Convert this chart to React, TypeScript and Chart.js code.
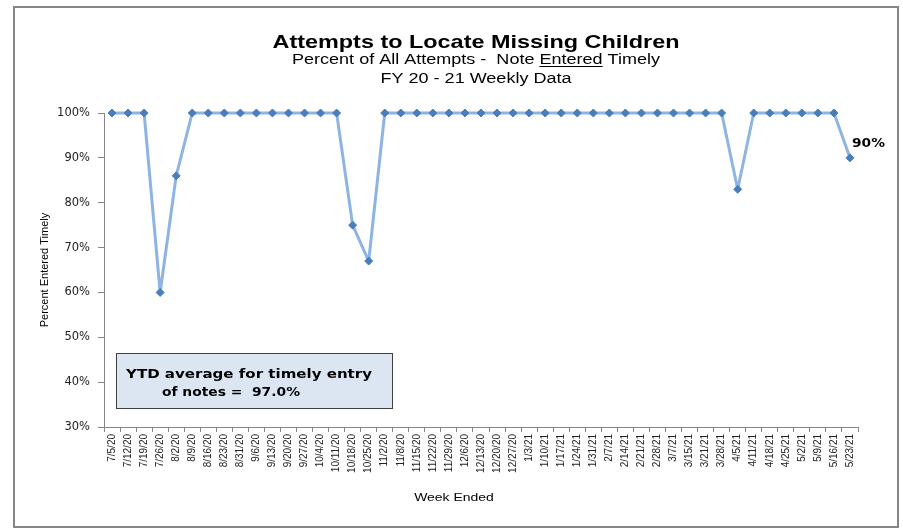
import React, { useEffect, useRef } from "react";
import { Chart, registerables } from "chart.js";

Chart.register(...registerables);

const weeks: string[] = [
  "7/5/20", "7/12/20", "7/19/20", "7/26/20", "8/2/20", "8/9/20", "8/16/20", "8/23/20", "8/31/20",
  "9/6/20", "9/13/20", "9/20/20", "9/27/20", "10/4/20", "10/11/20", "10/18/20", "10/25/20",
  "11/2/20", "11/8/20", "11/15/20", "11/22/20", "11/29/20", "12/6/20", "12/13/20", "12/20/20",
  "12/27/20", "1/3/21", "1/10/21", "1/17/21", "1/24/21", "1/31/21", "2/7/21", "2/14/21",
  "2/21/21", "2/28/21", "3/7/21", "3/15/21", "3/21/21", "3/28/21", "4/5/21", "4/11/21",
  "4/18/21", "4/25/21", "5/2/21", "5/9/21", "5/16/21", "5/23/21",
];

const percentTimely: number[] = [
  100, 100, 100, 60, 86, 100, 100, 100, 100,
  100, 100, 100, 100, 100, 100, 75, 67,
  100, 100, 100, 100, 100, 100, 100, 100,
  100, 100, 100, 100, 100, 100, 100, 100,
  100, 100, 100, 100, 100, 100, 83, 100,
  100, 100, 100, 100, 100, 90,
];

const yTicks: number[] = [30, 40, 50, 60, 70, 80, 90, 100];

const titleText = "Attempts to Locate Missing Children";
const subtitlePre = "Percent of All Attempts -  Note ";
const subtitleUnder = "Entered";
const subtitlePost = " Timely";
const subtitle2 = "FY 20 - 21 Weekly Data";
const yAxisTitle = "Percent Entered Timely";
const xAxisTitle = "Week Ended";
const boxLine1 = "YTD average for timely entry";
const boxLine2 = "of notes =  97.0%";
const lastLabel = "90%";

const ARIAL = "'Liberation Sans', Arial, sans-serif";
const DEJAVU = "'DejaVu Sans', sans-serif";

// draw text horizontally stretched; left x, alphabetic baseline y
function drawStretched(ctx: CanvasRenderingContext2D, text: string, x: number, y: number, sx: number) {
  ctx.save();
  ctx.translate(x, y);
  ctx.scale(sx, 1);
  ctx.textAlign = "left";
  ctx.textBaseline = "alphabetic";
  ctx.fillText(text, 0, 0);
  ctx.restore();
}

const STRETCH = 1.27;

const decorPlugin = {
  id: "decor",
  beforeDraw(chart: any) {
    const ctx = chart.ctx as CanvasRenderingContext2D;
    ctx.save();
    ctx.fillStyle = "#ffffff";
    ctx.fillRect(0, 0, chart.width, chart.height);
    ctx.strokeStyle = "#868686";
    ctx.lineWidth = 2;
    ctx.strokeRect(14, 7, 884, 520);
    ctx.restore();
  },
  afterDraw(chart: any) {
    const ctx = chart.ctx as CanvasRenderingContext2D;
    const area = chart.chartArea;
    const cx = 476;
    ctx.save();
    ctx.fillStyle = "#000000";
    // title
    ctx.font = "bold 18.5px " + ARIAL;
    {
      const w = ctx.measureText(titleText).width;
      const s = 407 / w;
      drawStretched(ctx, titleText, cx - 407 / 2, 48, s);
    }
    // subtitle 1 with underline
    ctx.font = "14px " + ARIAL;
    {
      const wPre = ctx.measureText(subtitlePre).width;
      const wUnder = ctx.measureText(subtitleUnder).width;
      const wPost = ctx.measureText(subtitlePost).width;
      const total = wPre + wUnder + wPost;
      const s = 368 / total;
      const sx = cx - 368 / 2;
      drawStretched(ctx, subtitlePre, sx, 64, s);
      drawStretched(ctx, subtitleUnder, sx + wPre * s, 64, s);
      drawStretched(ctx, subtitlePost, sx + (wPre + wUnder) * s, 64, s);
      ctx.fillRect(sx + wPre * s, 66, wUnder * s, 1);
    }
    // subtitle 2
    ctx.font = "14px " + ARIAL;
    {
      const w = ctx.measureText(subtitle2).width;
      const s = 191 / w;
      drawStretched(ctx, subtitle2, cx - 191 / 2, 82.5, s);
    }
    // y axis title
    ctx.font = "11px " + ARIAL;
    ctx.save();
    ctx.translate(45, (area.top + area.bottom) / 2);
    ctx.rotate(-Math.PI / 2);
    ctx.textAlign = "center";
    ctx.textBaseline = "middle";
    ctx.fillText(yAxisTitle, 0, 0);
    ctx.restore();
    // x axis title
    ctx.font = "11px " + ARIAL;
    {
      const w = ctx.measureText(xAxisTitle).width;
      drawStretched(ctx, xAxisTitle, 454 - (w * STRETCH) / 2, 501, STRETCH);
    }
    // YTD box
    ctx.fillStyle = "#dce6f2";
    ctx.fillRect(116, 353, 276, 55);
    ctx.strokeStyle = "#404040";
    ctx.lineWidth = 1;
    ctx.strokeRect(116.5, 353.5, 276, 55);
    ctx.fillStyle = "#000000";
    ctx.font = "bold 13px " + DEJAVU;
    {
      const w1 = ctx.measureText(boxLine1).width;
      drawStretched(ctx, boxLine1, 126, 377.5, 246 / w1);
      const w2 = ctx.measureText(boxLine2).width;
      drawStretched(ctx, boxLine2, 162, 395.5, 138 / w2);
    }
    // last point label
    const meta = chart.getDatasetMeta(0);
    const pt = meta.data[meta.data.length - 1];
    if (pt) {
      ctx.font = "bold 13px " + DEJAVU;
      const w = ctx.measureText(lastLabel).width;
      drawStretched(ctx, lastLabel, pt.x + 2, pt.y - 11, 33 / w);
    }
    ctx.restore();
  },
};

export default function App() {
  const ref = useRef<HTMLCanvasElement | null>(null);
  useEffect(() => {
    if (!ref.current) return;
    const chart = new Chart(ref.current, {
      type: "line",
      data: {
        labels: weeks,
        datasets: [
          {
            data: percentTimely,
            borderColor: "#8eb4e3",
            borderWidth: 3,
            borderJoinStyle: "round",
            pointStyle: "rectRot",
            pointRadius: 4,
            pointBackgroundColor: "#4a7ebb",
            pointBorderColor: "#4a7ebb",
            pointBorderWidth: 1,
            tension: 0,
            clip: false,
          } as any,
        ],
      },
      options: {
        responsive: false,
        animation: false,
        layout: { padding: { top: 113, right: 45, left: 0, bottom: 0 } },
        plugins: {
          legend: { display: false },
          title: { display: false },
          tooltip: { enabled: false },
        },
        scales: {
          x: {
            type: "category",
            offset: true,
            afterFit(scale: any) {
              scale.height = 101;
            },
            border: { color: "#868686", width: 1 },
            grid: {
              display: true,
              offset: true,
              drawOnChartArea: false,
              drawTicks: true,
              tickLength: 5,
              color: "#868686",
            },
            ticks: {
              autoSkip: false,
              minRotation: 90,
              maxRotation: 90,
              padding: 2,
              color: "#222222",
              font: { family: ARIAL, size: 10 },
            },
          },
          y: {
            min: 30,
            max: 100,
            afterFit(scale: any) {
              scale.width = 104;
            },
            afterBuildTicks(scale: any) {
              scale.ticks = yTicks.map((v) => ({ value: v }));
            },
            border: { color: "#868686", width: 1 },
            grid: {
              display: true,
              drawOnChartArea: false,
              drawTicks: true,
              tickLength: 6,
              color: "#868686",
            },
            ticks: {
              padding: 8,
              color: "#222222",
              font: { family: DEJAVU, size: 11.5 },
              callback: (v: any) => v + "%",
            },
          },
        },
      },
      plugins: [decorPlugin],
    });
    return () => chart.destroy();
  }, []);
  return (
    <div style={{ position: "absolute", left: 0, top: 0, width: 903, height: 528 }}>
      <canvas ref={ref} width={903} height={528} style={{ display: "block" }} />
    </div>
  );
}
